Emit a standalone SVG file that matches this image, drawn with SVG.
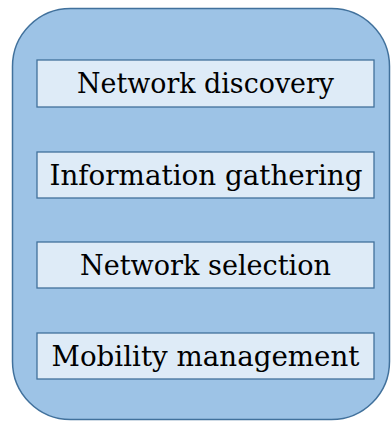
<svg xmlns="http://www.w3.org/2000/svg" width="391" height="421" viewBox="0 0 391 421">
<style>
.outer{fill:#9dc3e6;stroke:#41719c;stroke-width:1.5}
.box{fill:#deebf7;stroke:#41719c;stroke-width:1.3}
.lbl{font-family:"DejaVu Serif","Liberation Serif",serif;font-size:27px;fill:#000;text-anchor:middle}
</style>
<g id="container"><rect class="outer" x="12.5" y="8.5" width="377" height="411" rx="58" ry="58"/></g>
<g id="connectors"/>
<g id="n1"><rect class="box" x="37" y="60" width="337" height="47"/><text class="lbl" x="205.5" y="93" textLength="257" lengthAdjust="spacingAndGlyphs">Network discovery</text></g>
<g id="n2"><rect class="box" x="37" y="152" width="337" height="46"/><text class="lbl" x="206" y="185" textLength="313" lengthAdjust="spacingAndGlyphs">Information gathering</text></g>
<g id="n3"><rect class="box" x="37" y="242" width="337" height="46"/><text class="lbl" x="205.5" y="275" textLength="251" lengthAdjust="spacingAndGlyphs">Network selection</text></g>
<g id="n4"><rect class="box" x="37" y="333" width="337" height="46"/><text class="lbl" x="205.5" y="366" textLength="308" lengthAdjust="spacingAndGlyphs">Mobility management</text></g>
</svg>
